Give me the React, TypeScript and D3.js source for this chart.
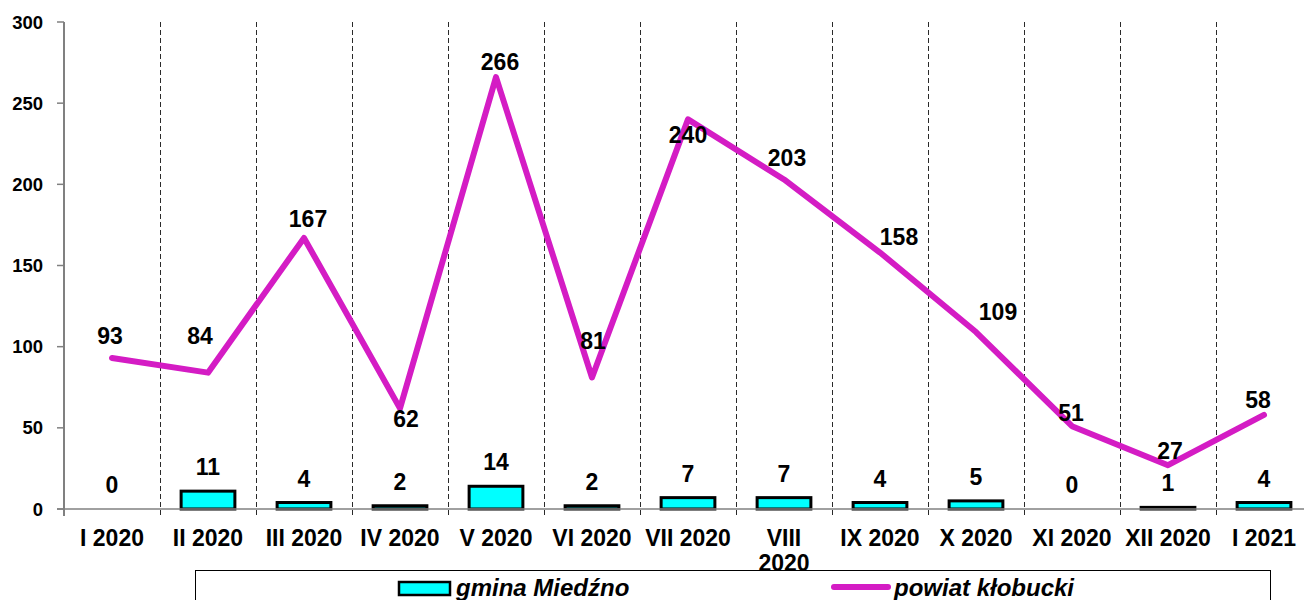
import React from "react";
import * as d3 from "d3";

const categories = ["I 2020", "II 2020", "III 2020", "IV 2020", "V 2020", "VI 2020", "VII 2020", "VIII 2020", "IX 2020", "X 2020", "XI 2020", "XII 2020", "I 2021"];
const gminaValues = [0, 11, 4, 2, 14, 2, 7, 7, 4, 5, 0, 1, 4];
const powiatValues = [93, 84, 167, 62, 266, 81, 240, 203, 158, 109, 51, 27, 58];
const yTicks = [0, 50, 100, 150, 200, 250, 300];
const seriesNames = ["gmina Miedźno", "powiat kłobucki"];

// label offsets (style) for line labels [dx, dy]
const lineLabelOffsets: [number, number][] = [
  [-2, -22], [-8, -37], [4, -19], [6, 11], [4, -15], [1, -37], [0, 16],
  [3, -21], [19, -16], [22, -20], [-1, -13], [2, -14], [-6, -15],
];

const W = 1304;
const H = 600;
const left = 64;
const right = 1312;
const top = 22;
const bottom = 509;
const FONT = "'Liberation Sans', Arial, sans-serif";
const MAGENTA = "#d41cc4";
const CYAN = "#00ffff";

export default function App() {
  const x = d3.scaleBand<string>().domain(categories).range([left, right]).paddingInner(0).paddingOuter(0);
  const y = d3.scaleLinear().domain([0, 300]).range([bottom, top]);
  const bw = x.bandwidth();
  const barW = bw * 0.56;
  const line = d3
    .line<number>()
    .x((_, i) => (x(categories[i]) as number) + bw / 2)
    .y((d) => y(d));

  return (
    <svg width={W} height={H} style={{ position: "absolute", left: 0, top: 0, background: "#fff" }} fontFamily={FONT}>
      {/* vertical dashed gridlines */}
      {categories.slice(1).map((c) => {
        const xx = Math.round(x(c) as number) + 0.5;
        return <line key={"g" + c} x1={xx} x2={xx} y1={top} y2={bottom + 7} stroke="#2a2a2a" strokeWidth={1} strokeDasharray="5,3" />;
      })}
      {/* y axis */}
      <line x1={left} x2={left} y1={top} y2={bottom + 7} stroke="#808080" strokeWidth={2} />
      {yTicks.map((t) => (
        <g key={"yt" + t}>
          <line x1={left - 7} x2={left} y1={y(t)} y2={y(t)} stroke="#808080" strokeWidth={1.5} />
          <text x={43} y={y(t)} textAnchor="end" dominantBaseline="central" fontSize={18.5} fontWeight="bold">
            {t}
          </text>
        </g>
      ))}
      {/* bars */}
      {gminaValues.map((v, i) => {
        const cx = (x(categories[i]) as number) + bw / 2;
        if (v === 0) return null;
        return (
          <rect key={"b" + i} x={cx - barW / 2} y={y(v)} width={barW} height={bottom - y(v)} fill={CYAN} stroke="#000" strokeWidth={3} />
        );
      })}
      {/* x axis */}
      <line x1={left - 7} x2={right} y1={bottom} y2={bottom} stroke="#808080" strokeWidth={1.5} />
      {/* bar labels */}
      {gminaValues.map((v, i) => {
        const cx = (x(categories[i]) as number) + bw / 2;
        return (
          <text key={"bl" + i} x={cx} y={y(v) - 24} textAnchor="middle" dominantBaseline="central" fontSize={23} fontWeight="bold">
            {v}
          </text>
        );
      })}
      {/* line */}
      <path d={line(powiatValues) || ""} fill="none" stroke={MAGENTA} strokeWidth={6} strokeLinejoin="round" strokeLinecap="round" />
      {powiatValues.map((v, i) => {
        const cx = (x(categories[i]) as number) + bw / 2;
        const [dx, dy] = lineLabelOffsets[i];
        return (
          <text key={"ll" + i} x={cx + dx} y={y(v) + dy} textAnchor="middle" dominantBaseline="central" fontSize={23} fontWeight="bold">
            {v}
          </text>
        );
      })}
      {/* x labels */}
      {categories.map((c) => {
        const cx = (x(c) as number) + bw / 2;
        const parts = c.length > 8 ? c.split(" ") : [c];
        return (
          <text key={"xl" + c} x={cx} y={546} textAnchor="middle" fontSize={23} fontWeight="bold">
            {parts.map((p, j) => (
              <tspan key={j} x={cx} dy={j === 0 ? 0 : 25}>
                {p}
              </tspan>
            ))}
          </text>
        );
      })}
      {/* legend */}
      <rect x={195.5} y={570.5} width={1075} height={40} fill="#fff" stroke="#000" strokeWidth={1} />
      <rect x={399} y={582} width={51} height={13} fill={CYAN} stroke="#000" strokeWidth={2.5} />
      <text x={456} y={596} fontSize={24} fontWeight="bold" fontStyle="italic">
        {seriesNames[0]}
      </text>
      <line x1={834} x2={888} y1={587} y2={587} stroke={MAGENTA} strokeWidth={6} strokeLinecap="round" />
      <text x={894} y={596} fontSize={24} fontWeight="bold" fontStyle="italic">
        {seriesNames[1]}
      </text>
    </svg>
  );
}
